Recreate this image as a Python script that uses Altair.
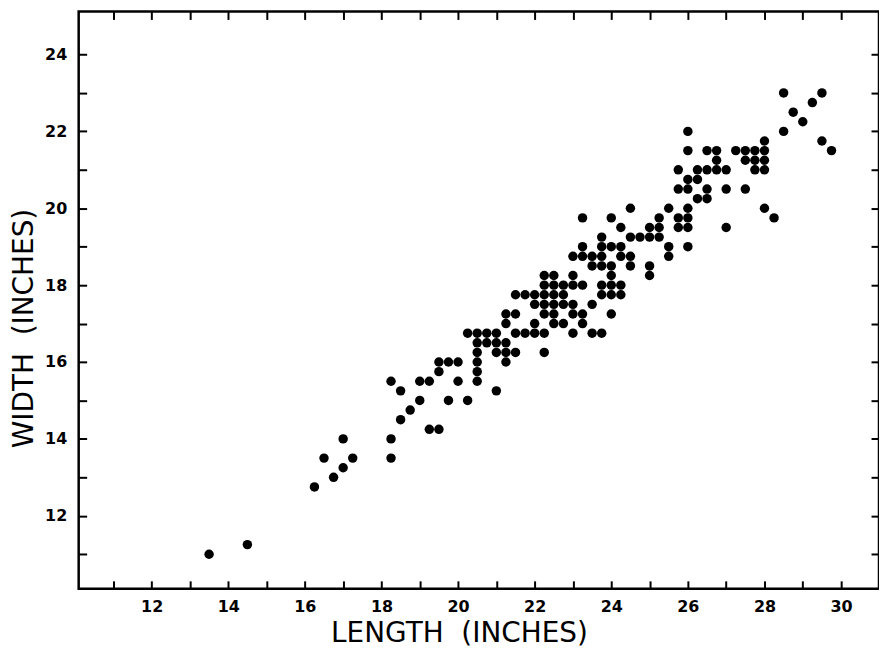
import altair as alt
import pandas as pd

# Length (inches) and width (inches) of each specimen
lengths = [
    13.5, 14.5, 16.25, 16.75, 17.0,
    16.5, 17.25, 18.25,
    17.0, 18.25,
    19.25, 19.5,
    18.5,
    18.75,
    19.0, 19.75, 20.25,
    18.5, 21.0,
    18.25, 19.0, 19.25, 20.0, 20.5,
    19.5, 20.5,
    19.5, 19.75, 20.0, 20.5, 21.25,
    20.5, 21.0, 21.25, 21.5, 22.25,
    20.5, 20.75, 21.0, 21.25,
    20.25, 20.5, 20.75, 21.0, 21.5, 21.75, 22.0, 22.25, 23.0, 23.5, 23.75,
    21.25, 22.0, 22.5, 22.75, 23.25,
    21.25, 21.5, 22.25, 22.5, 23.0, 23.25, 24.0,
    22.0, 22.25, 22.5, 22.75, 23.0, 23.5,
    21.5, 21.75, 22.0, 22.25, 22.5, 22.75, 23.75, 24.0, 24.25,
    22.25, 22.5, 22.75, 23.0, 23.25, 23.75, 24.0, 24.25,
    22.25, 22.5, 23.0, 24.0, 25.0,
    23.5, 23.75, 24.0, 24.5, 25.0,
    23.0, 23.25, 23.5, 23.75, 24.25, 24.5, 25.5,
    23.25, 23.75, 24.0, 24.25, 25.5, 26.0,
    23.75, 24.5, 24.75, 25.0, 25.25,
    24.25, 25.0, 25.25, 25.75, 26.0, 27.0,
    23.25, 24.0, 25.25, 25.75, 26.0, 28.25,
    24.5, 25.5, 26.0, 28.0,
    26.25, 26.5,
    25.75, 26.0, 26.5, 27.0, 27.5,
    26.0, 26.25,
    25.75, 26.25, 26.5, 26.75, 27.0, 27.75, 28.0,
    26.75, 27.5, 27.75, 28.0,
    26.0, 26.5, 26.75, 27.25, 27.5, 27.75, 28.0, 29.75,
    28.0, 29.5,
    26.0, 28.5,
    29.0,
    28.75,
    29.25,
    28.5, 29.5,
]
widths = (
    [11.0, 11.25, 12.75, 13.0, 13.25]
    + [13.5] * 3 + [14.0] * 2 + [14.25] * 2 + [14.5] + [14.75]
    + [15.0] * 3 + [15.25] * 2 + [15.5] * 5 + [15.75] * 2 + [16.0] * 5
    + [16.25] * 5 + [16.5] * 4 + [16.75] * 11 + [17.0] * 5 + [17.25] * 7
    + [17.5] * 6 + [17.75] * 9 + [18.0] * 8 + [18.25] * 5 + [18.5] * 5
    + [18.75] * 7 + [19.0] * 6 + [19.25] * 5 + [19.5] * 6 + [19.75] * 6
    + [20.0] * 4 + [20.25] * 2 + [20.5] * 5 + [20.75] * 2 + [21.0] * 7
    + [21.25] * 4 + [21.5] * 8 + [21.75] * 2 + [22.0] * 2 + [22.25]
    + [22.5] + [22.75] + [23.0] * 2
)

x_ticks = list(range(11, 31))
y_ticks = list(range(11, 25))
x_domain = [10.095, 30.99]
y_domain = [10.1, 25.12]

df = pd.DataFrame({"length": lengths, "width": widths})

W, H = 804, 580
FONT = "DejaVu Sans"

xs = alt.Scale(domain=x_domain, nice=False, zero=False)
ys = alt.Scale(domain=y_domain, nice=False, zero=False)

label_even = "datum.value % 2 === 0 ? datum.label : ''"

main = alt.Chart(df).mark_circle(size=90, color="black", opacity=1).encode(
    x=alt.X("length:Q", scale=xs,
            axis=alt.Axis(orient="bottom", values=x_ticks, labelExpr=label_even,
                          offset=-8, tickSize=8, tickWidth=2, tickColor="black",
                          domain=False, grid=False, labelPadding=10,
                          labelFont=FONT, labelFontSize=16, labelFontWeight="bold",
                          labelColor="black",
                          title="LENGTH\u00a0\u00a0(INCHES)", titleFont=FONT,
                          titleFontSize=28, titleFontWeight="normal", titleColor="black",
                          titleX=382, titleY=53, titleBaseline="middle", titleAlign="center")),
    y=alt.Y("width:Q", scale=ys,
            axis=alt.Axis(orient="left", values=y_ticks, labelExpr=label_even,
                          offset=-8, tickSize=8, tickWidth=2, tickColor="black",
                          domain=False, grid=False, labelPadding=12,
                          labelFont=FONT, labelFontSize=16, labelFontWeight="bold",
                          labelColor="black",
                          title="WIDTH\u00a0\u00a0(INCHES)", titleFont=FONT,
                          titleFontSize=28, titleFontWeight="normal", titleColor="black",
                          titleX=-62, titleY=318, titleAngle=270,
                          titleBaseline="middle", titleAlign="center")),
)

ghost = alt.Chart(df).mark_point(opacity=0).encode(
    x=alt.X("length:Q", scale=xs,
            axis=alt.Axis(orient="top", values=x_ticks, offset=-8, tickSize=8,
                          tickWidth=2, tickColor="black", labels=False,
                          domain=False, grid=False, title=None)),
    y=alt.Y("width:Q", scale=ys,
            axis=alt.Axis(orient="right", values=y_ticks, offset=-8, tickSize=8,
                          tickWidth=2, tickColor="black", labels=False,
                          domain=False, grid=False, title=None)),
)

chart = (
    alt.layer(main, ghost)
    .resolve_axis(x="independent", y="independent")
    .properties(
        width=W, height=H,
        autosize=alt.AutoSizeParams(type="none"),
        padding={"left": 71, "top": 2, "right": 0, "bottom": 62},
        background="white",
    )
    .configure_view(stroke="black", strokeWidth=2.5)
)

chart.save("out.html", embed_options={"renderer": "svg", "actions": False})
